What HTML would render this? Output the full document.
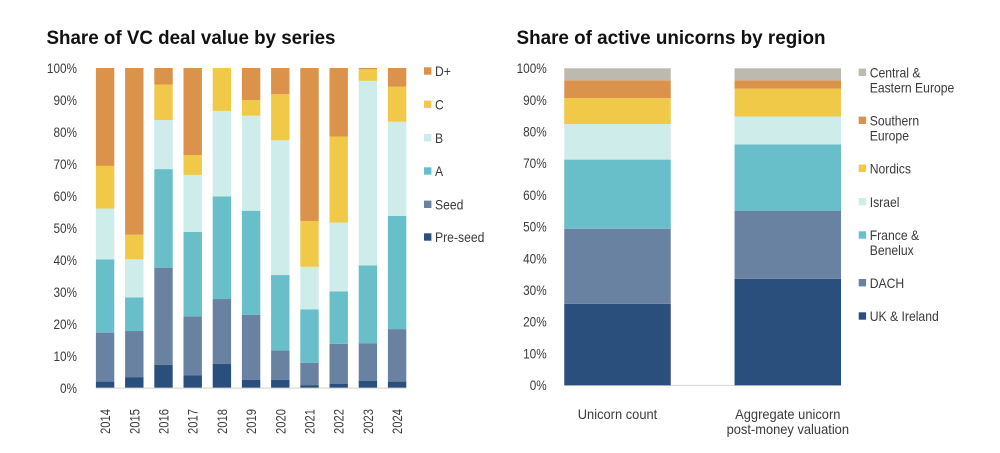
<!DOCTYPE html>
<html lang="en">
<head>
<meta charset="utf-8">
<title>Share of VC deal value and active unicorns</title>
<style>
html,body{margin:0;padding:0;background:#fff;}
svg{display:block;}
text{font-family:"Liberation Sans",Arial,sans-serif;}
</style>
</head>
<body>
<svg id="chart" xmlns="http://www.w3.org/2000/svg" width="1000" height="453" viewBox="0 0 1000 453">
<rect x="0" y="0" width="1000" height="453" fill="#ffffff"/>
<text x="46.5" y="44" font-size="19" font-weight="700" fill="#111111" textLength="289" lengthAdjust="spacingAndGlyphs">Share of VC deal value by series</text>
<text x="516.5" y="44" font-size="19" font-weight="700" fill="#111111" textLength="309" lengthAdjust="spacingAndGlyphs">Share of active unicorns by region</text>
<g id="left"></g>
<g id="right"></g>
</svg>
<script>
// Tick labels shared by both charts
var tickValues = [0, 10, 20, 30, 40, 50, 60, 70, 80, 90, 100];

// Left chart data
var years = ['2014','2015','2016','2017','2018','2019','2020','2021','2022','2023','2024'];
var preSeed = [2, 3.4, 7.2, 3.9, 7.6, 2.6, 2.6, 0.9, 1.25, 2.3, 2];
var seed = [15.3, 14.4, 30.4, 18.5, 20.2, 20.3, 9.1, 7, 12.55, 11.7, 16.4];
var seriesA = [22.9, 10.5, 30.8, 26.35, 32.1, 32.5, 23.6, 16.7, 16.4, 24.3, 35.35];
var seriesB = [15.9, 11.9, 15.35, 17.85, 26.7, 29.7, 42.1, 13.3, 21.5, 57.7, 29.45];
var seriesC = [13.3, 7.7, 11.05, 6.2, 13.4, 4.9, 14.4, 14.3, 26.9, 3.6, 11];
var seriesD = [30.6, 52.1, 5.2, 27.2, 0, 10, 8.2, 47.8, 21.4, 0.4, 5.8];

// Right chart data
var measures = [['Unicorn count'], ['Aggregate unicorn', 'post-money valuation']];
var ukIreland = [25.7, 33.6];
var dach = [23.7, 21.5];
var franceBenelux = [21.8, 20.9];
var israel = [11.2, 8.8];
var nordics = [8.2, 8.8];
var southernEurope = [5.6, 2.6];
var centralEastern = [3.8, 3.8];

var C_PRE = '#2a4f7c', C_SEED = '#6a82a2', C_A = '#68bfc9', C_B = '#cdecea',
    C_C = '#efc947', C_D = '#db924a', C_GREY = '#bdb9ae';
var TEXT = '#3a3a3a', AXIS = '#d6d2cc';
var NS = 'http://www.w3.org/2000/svg';

function node(parent, tag) {
  var el = document.createElementNS(NS, tag);
  parent.appendChild(el);
  return el;
}
function rect(parent, x, y, w, h, fill) {
  var r = node(parent, 'rect');
  r.setAttribute('x', x);
  r.setAttribute('y', y);
  r.setAttribute('width', w);
  r.setAttribute('height', h);
  r.setAttribute('fill', fill);
  return r;
}
function label(parent, str, x, y, anchor, condense) {
  var t = node(parent, 'text');
  t.textContent = str;
  t.setAttribute('x', x);
  t.setAttribute('y', y);
  t.setAttribute('font-size', '14');
  t.setAttribute('fill', TEXT);
  t.setAttribute('text-anchor', anchor);
  t.setAttribute('textLength', (t.getComputedTextLength() * condense).toFixed(2));
  t.setAttribute('lengthAdjust', 'spacingAndGlyphs');
  return t;
}
function slug(s) {
  return s.toLowerCase().replace(/[^a-z0-9]+/g, '-').replace(/^-|-$/g, '');
}

function drawTicks(g, yScale, rightEdge) {
  tickValues.forEach(function (v) {
    var t = label(g, v + '%', rightEdge, yScale(v) + 4.8, 'end', 0.84);
    
    
  });
}

function drawStacks(g, stack, count, xScale, barW, yScale) {
  for (var i = 0; i < count; i++) {
    var cum = 0;
    stack.forEach(function (s) {
      var v = s.values[i];
      if (v > 0) {
        var r = rect(g, xScale(i) - barW / 2, yScale(cum + v), barW, yScale(cum) - yScale(cum + v), s.color);
        
        
      }
      cum += v;
    });
  }
}

function drawLegend(g, entries, swatchX) {
  entries.forEach(function (e) {
    var item = node(g, 'g');
    
    
    var sw = rect(item, swatchX, e.y - 3.7, 7.4, 7.4, e.color);
    
    
    e.lines.forEach(function (line, k) {
      var t = label(item, line, swatchX + 11, e.y + 5.2 + k * 15, 'start', 0.87);
      
      
    });
  });
}

// Left chart
(function () {
  var g = document.getElementById('left');
  var yScale = function (v) { return 388 - v * 3.2; };
  var xScale = function (i) { return 105.1 + i * 29.2; };
  var barW = 18.4;
  drawTicks(g, yScale, 77);
  drawStacks(g, [
    { name: 'Pre-seed', values: preSeed, color: C_PRE },
    { name: 'Seed', values: seed, color: C_SEED },
    { name: 'A', values: seriesA, color: C_A },
    { name: 'B', values: seriesB, color: C_B },
    { name: 'C', values: seriesC, color: C_C },
    { name: 'D+', values: seriesD, color: C_D }
  ], years.length, xScale, barW, yScale);
  var axis = rect(g, 96, 387.6, 310.4, 1, AXIS);
  
  
  years.forEach(function (y, i) {
    var cx = xScale(i) + 5;
    var t = label(g, y, cx, 421.5, 'middle', 0.8);
    t.setAttribute('transform', 'rotate(-90 ' + cx + ' 421.5)');
    
    
  });
  drawLegend(g, [
    { lines: ['D+'], color: C_D, y: 71 },
    { lines: ['C'], color: C_C, y: 104.3 },
    { lines: ['B'], color: C_B, y: 137.7 },
    { lines: ['A'], color: C_A, y: 171 },
    { lines: ['Seed'], color: C_SEED, y: 204.3 },
    { lines: ['Pre-seed'], color: C_PRE, y: 237 }
  ], 424);
})();

// Right chart
(function () {
  var g = document.getElementById('right');
  var yScale = function (v) { return 385.3 - v * 3.17; };
  var xScale = function (i) { return 617.5 + i * 170.3; };
  var barW = 106.5;
  drawTicks(g, yScale, 546.7);
  var axis = rect(g, 564.3, 384.9, 277, 1, AXIS);
  
  
  drawStacks(g, [
    { name: 'UK & Ireland', values: ukIreland, color: C_PRE },
    { name: 'DACH', values: dach, color: C_SEED },
    { name: 'France & Benelux', values: franceBenelux, color: C_A },
    { name: 'Israel', values: israel, color: C_B },
    { name: 'Nordics', values: nordics, color: C_C },
    { name: 'Southern Europe', values: southernEurope, color: C_D },
    { name: 'Central & Eastern Europe', values: centralEastern, color: C_GREY }
  ], measures.length, xScale, barW, yScale);
  measures.forEach(function (lines, i) {
    lines.forEach(function (line, k) {
      var t = label(g, line, xScale(i), 419 + k * 15, 'middle', 0.92);
      
      
    });
  });
  drawLegend(g, [
    { lines: ['Central &', 'Eastern Europe'], color: C_GREY, y: 72.3 },
    { lines: ['Southern', 'Europe'], color: C_D, y: 120.3 },
    { lines: ['Nordics'], color: C_C, y: 168.3 },
    { lines: ['Israel'], color: C_B, y: 201.7 },
    { lines: ['France &', 'Benelux'], color: C_A, y: 235 },
    { lines: ['DACH'], color: C_SEED, y: 282.7 },
    { lines: ['UK & Ireland'], color: C_PRE, y: 316 }
  ], 858.7);
})();
</script>
</body>
</html>
